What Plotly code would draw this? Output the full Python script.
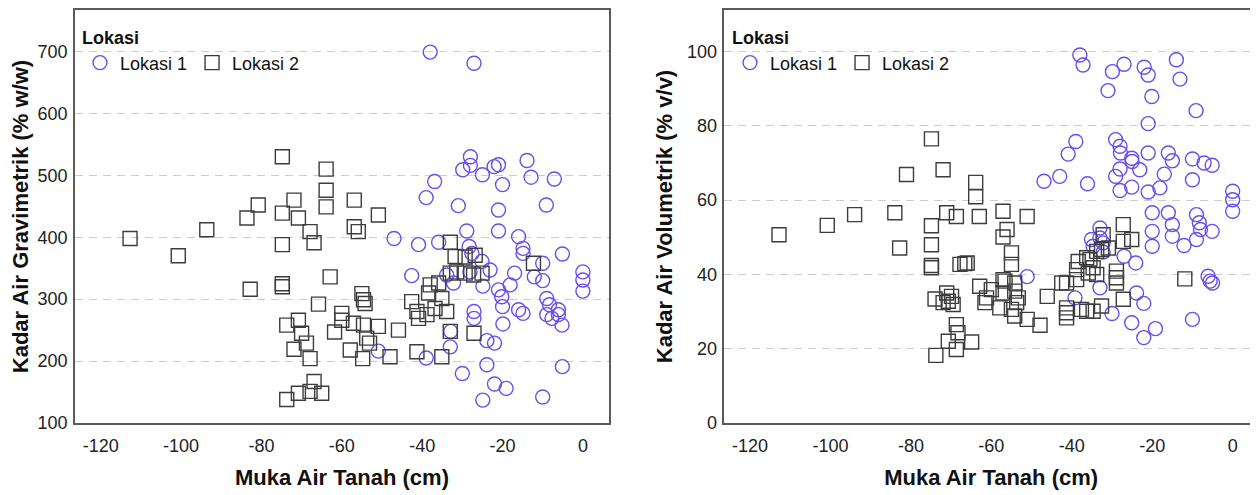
import plotly.graph_objects as go

# ---------------- data ----------------
# Left panel: gravimetric water content (% w/w) vs groundwater level (cm)
grav_l1_x = [
    -38.0, -27.1, -28.0, -28.0, -29.9, -22.1, -21.0, -25.0, -13.9, -12.9,
    -7.1, -20.0, -36.9, -39.0, -31.0, -21.0, -9.1, -28.9, -21.0, -16.0,
    -47.0, -40.9, -35.9, -28.3, -27.6, -14.9, -14.9, -5.1, -25.1, -23.1,
    -42.6, -33.9, -32.2, -28.1, -24.9, -21.0, -20.2, -18.1, -17.0, -12.1,
    -10.0, -10.0, 0.0, 0.0, 0.0, -20.0, -16.0, -14.9, -9.0, -8.3,
    -6.1, -9.0, -7.7, -6.1, -5.2, -27.1, -27.1, -19.9, -32.9, -33.0,
    -23.9, -22.0, -39.0, -50.9, -23.9, -5.1, -30.0, -22.0, -19.1, -24.9,
    -10.0]
grav_l1_y = [
    699, 681, 530, 516, 509, 514, 517, 501, 524, 497,
    494, 485, 490, 464, 451, 444, 452, 410, 410, 401,
    398, 388, 392, 385, 374, 382, 374, 373, 361, 347,
    338, 339, 326, 344, 321, 315, 304, 323, 342, 336,
    358, 330, 344, 331, 313, 288, 283, 277, 301, 291,
    283, 275, 269, 275, 258, 280, 269, 260, 248, 223,
    233, 229, 205, 216, 194, 191, 180, 163, 156, 137,
    142]

grav_l2_x = [
    -112.7, -100.7, -93.6, -83.6, -82.8, -80.8, -74.8, -74.8, -74.8, -74.8,
    -74.8, -73.7, -73.7, -71.9, -71.9, -70.8, -70.8, -70.8, -70.0, -68.8,
    -67.9, -67.9, -67.9, -66.9, -66.9, -65.8, -65.0, -63.9, -63.9, -63.9,
    -62.9, -60.0, -60.0, -61.8, -57.9, -57.1, -56.9, -56.9, -55.9, -55.0,
    -54.6, -54.2, -54.6, -53.8, -53.1, -54.8, -50.9, -50.9, -48.0, -45.9,
    -42.6, -41.3, -41.3, -40.9, -38.8, -38.4, -38.0, -36.8, -35.9, -35.1,
    -35.1, -33.9, -33.0, -33.0, -33.0, -31.8, -31.4, -29.3, -29.3, -27.2,
    -27.1, -26.8, -25.1, -12.3]
grav_l2_y = [
    398, 370, 412, 431, 316, 452, 530, 439, 388, 325,
    320, 258, 138, 460, 219, 431, 266, 148, 245, 229,
    409, 204, 151, 391, 167, 292, 148, 510, 476, 449,
    336, 277, 266, 247, 218, 261, 460, 417, 409, 309,
    299, 293, 258, 237, 229, 204, 436, 256, 207, 250,
    296, 280, 215, 269, 275, 310, 323, 285, 326, 301,
    207, 280, 392, 342, 248, 369, 344, 368, 342, 339,
    245, 371, 342, 358]

# Right panel: volumetric water content (% v/v) vs groundwater level (cm)
vol_l1_x = [
    -38.0, -37.2, -29.9, -27.0, -22.0, -21.0, -14.0, -13.1, -31.0, -20.1,
    -9.1, -21.0, -39.0, -40.9, -29.1, -28.0, -27.9, -25.1, -25.0, -21.0,
    -16.0, -15.0, -10.0, -7.1, -5.1, -43.0, -46.9, -36.1, -28.0, -29.1,
    -23.1, -17.0, -10.0, -25.1, -28.0, -21.0, -18.1, 0.0, 0.0, 0.0,
    -20.0, -16.0, -9.0, -15.0, -15.0, -8.3, -8.0, -5.1, -9.0, -20.0,
    -20.0, -12.1, -33.0, -33.0, -35.1, -34.7, -32.2, -32.2, -27.0, -24.1,
    -6.1, -5.6, -5.0, -33.0, -39.2, -23.9, -22.1, -30.0, -25.1, -19.2,
    -22.1, -10.0, -51.1]
vol_l1_y = [
    99.1, 96.4, 94.6, 96.6, 95.8, 93.7, 97.8, 92.6, 89.5, 87.9,
    84.1, 80.6, 75.8, 72.4, 76.3, 74.5, 72.7, 71.3, 70.4, 72.7,
    72.7, 70.6, 71.1, 70.0, 69.4, 66.4, 65.1, 64.4, 68.4, 66.4,
    68.2, 67.0, 65.5, 63.5, 62.6, 62.2, 63.3, 62.4, 60.1, 57.0,
    56.6, 56.6, 56.1, 53.4, 50.3, 53.9, 52.1, 51.6, 49.4, 51.6,
    47.6, 47.8, 52.5, 49.8, 49.4, 47.6, 48.5, 46.0, 44.9, 43.1,
    39.5, 38.2, 37.7, 36.4, 33.7, 35.0, 32.2, 29.5, 27.0, 25.4,
    23.0, 27.9, 39.4]

vol_l2_x = [
    -112.8, -100.8, -94.0, -84.0, -82.8, -81.1, -74.9, -74.9, -74.9, -74.9,
    -74.9, -74.0, -73.8, -72.0, -72.0, -71.1, -71.1, -70.7, -70.7, -69.9,
    -69.5, -68.7, -68.7, -68.3, -68.7, -67.8, -66.6, -66.0, -64.9, -63.9,
    -63.9, -63.0, -62.9, -61.2, -61.6, -60.0, -57.1, -57.1, -57.1, -57.9,
    -56.6, -56.1, -57.1, -55.0, -55.0, -55.0, -54.2, -54.2, -53.3, -53.7,
    -54.2, -51.1, -51.1, -47.9, -46.1, -42.5, -41.3, -41.3, -41.3, -41.3,
    -38.8, -38.8, -38.4, -37.6, -36.3, -36.3, -35.9, -35.5, -34.7, -34.7,
    -33.8, -33.8, -32.6, -32.6, -32.2, -30.9, -28.9, -28.9, -28.9, -27.2,
    -27.2, -27.2, -25.1, -11.9]
vol_l2_y = [
    50.7, 53.2, 56.1, 56.6, 47.1, 66.9, 76.5, 53.1, 48.0, 42.4,
    41.8, 33.4, 18.2, 68.2, 32.4, 56.6, 35.0, 32.8, 22.0, 34.1,
    31.9, 55.6, 26.5, 24.3, 19.8, 42.7, 42.9, 43.1, 21.8, 64.8,
    60.9, 55.6, 36.8, 33.7, 32.4, 35.9, 57.0, 38.6, 35.0, 31.0,
    38.2, 52.1, 50.1, 45.8, 42.7, 30.6, 37.7, 35.5, 33.7, 32.4,
    28.8, 55.6, 27.9, 26.3, 34.1, 37.7, 37.7, 31.0, 29.7, 28.3,
    38.6, 41.3, 43.5, 30.6, 44.5, 30.1, 40.4, 44.0, 41.8, 30.1,
    46.2, 40.0, 46.7, 31.5, 50.7, 47.1, 40.9, 39.1, 37.7, 53.4,
    48.9, 33.3, 49.4, 38.8]

series_names = ["Lokasi 1", "Lokasi 2"]
legend_title = "Lokasi"
x_title = "Muka Air Tanah (cm)"
y_title_left = "Kadar Air Gravimetrik (% w/w)"
y_title_right = "Kadar Air Volumetrik (% v/v)"

x_tickvals = [-120, -100, -80, -60, -40, -20, 0]
x_ticktext = ["-120", "-100", "-80", "-60", "-40", "-20", "0"]
y_left_tickvals = [100, 200, 300, 400, 500, 600, 700]
y_left_ticktext = ["100", "200", "300", "400", "500", "600", "700"]
y_right_tickvals = [0, 20, 40, 60, 80, 100]
y_right_ticktext = ["0", "20", "40", "60", "80", "100"]

# ---------------- styling ----------------
FONT = "Liberation Sans, Arial, sans-serif"
C1 = "#6b4cf0"
C2 = "#3c3c3c"
# the page body adds an 8px margin, so the figure is sized to fit the window
OFF = 8
W, H = 1258 - OFF, 495 - OFF


def px_x(p):
    return (p - OFF) / W


def px_y(p):
    return 1 - (p - OFF) / H


fig = go.Figure()


def add_pair(x1, y1, x2, y2, xa, ya, leg):
    fig.add_trace(go.Scatter(
        x=x1, y=y1, mode="markers", name=series_names[0],
        xaxis=xa, yaxis=ya, legend=leg,
        marker=dict(symbol="circle-open", size=14, color=C1,
                    line=dict(width=1.4, color=C1))))
    fig.add_trace(go.Scatter(
        x=x2, y=y2, mode="markers", name=series_names[1],
        xaxis=xa, yaxis=ya, legend=leg,
        marker=dict(symbol="square-open", size=14, color=C2,
                    line=dict(width=1.4, color=C2))))


add_pair(grav_l1_x, grav_l1_y, grav_l2_x, grav_l2_y, "x", "y", "legend")
add_pair(vol_l1_x, vol_l1_y, vol_l2_x, vol_l2_y, "x2", "y2", "legend2")

ydom = [px_y(423), px_y(10)]
tickfont = dict(family=FONT, size=18, color="#222222")
titlefont = dict(family=FONT, size=22, color="#111111", weight="bold")

xcommon = dict(
    tickvals=x_tickvals, ticktext=x_ticktext, tickfont=tickfont,
    showgrid=False, zeroline=False, showline=True, linecolor="#5a5a5a",
    linewidth=1.5, mirror=True, ticks="", ticklabelstandoff=6,
    automargin=False,
    title=dict(text=x_title, font=titlefont, standoff=14),
)
ycommon = dict(
    tickfont=tickfont, showgrid=True, gridcolor="#cccccc", gridwidth=1.3,
    griddash="8px,6px", zeroline=False, showline=True, linecolor="#5a5a5a",
    linewidth=1.5, mirror=True, ticks="", ticklabelstandoff=2,
    automargin=False,
)

legcommon = dict(
    y=px_y(21), xanchor="left", yanchor="top",
    orientation="h", bgcolor="rgba(0,0,0,0)",
    font=dict(family=FONT, size=18, color="#111111"),
    title=dict(text=legend_title, side="top",
               font=dict(family=FONT, size=18, color="#111111", weight="bold")),
    itemwidth=30, tracegroupgap=0,
)

fig.update_layout(
    width=W, height=H,
    margin=dict(l=0, r=0, t=0, b=0),
    paper_bgcolor="white", plot_bgcolor="white",
    font=dict(family=FONT, size=18, color="#111111"),
    xaxis=dict(domain=[px_x(75), px_x(609)], range=[-126.4, 6.5], anchor="y",
               **xcommon),
    yaxis=dict(domain=ydom, range=[100, 767], anchor="x",
               tickvals=y_left_tickvals, ticktext=y_left_ticktext,
               title=dict(text=y_title_left, font=titlefont, standoff=8),
               **ycommon),
    xaxis2=dict(domain=[px_x(724.3), 1.0], range=[-126.4, 6.3], anchor="y2",
                **xcommon),
    yaxis2=dict(domain=ydom, range=[0, 111.2], anchor="x2",
                tickvals=y_right_tickvals, ticktext=y_right_ticktext,
                title=dict(text=y_title_right, font=titlefont, standoff=8),
                **ycommon),
    legend=dict(x=px_x(80), **legcommon),
    legend2=dict(x=px_x(730), **legcommon),
)

fig.write_html("out.html")
